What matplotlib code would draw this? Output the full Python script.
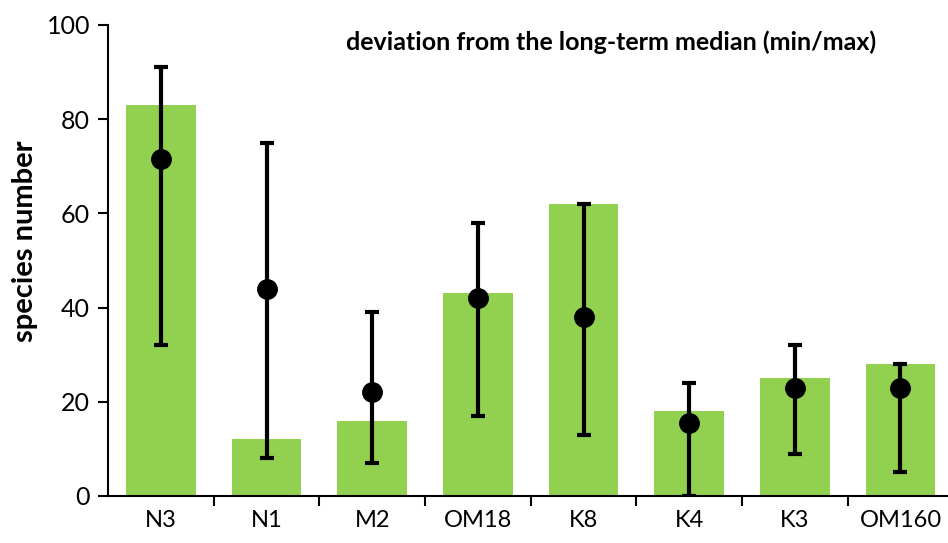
import numpy as np
import matplotlib.pyplot as plt

##------------data-----------------##
sites = ['N3', 'N1', 'M2', 'OM18', 'K8', 'K4', 'K3', 'OM160']
species = [83, 12, 16, 43, 62, 18, 25, 28]          # bars
median = [71.5, 44, 22, 42, 38, 15.5, 23, 23]       # long-term median
vmin = [32, 8, 7, 17, 13, 0, 9, 5]
vmax = [91, 75, 39, 58, 62, 24, 32, 28]

##------------figure-----------------##
plt.rcParams['font.family'] = ['Lato', 'DejaVu Sans']

fig = plt.figure(figsize=(9.48, 5.43), dpi=100)
ax = fig.add_axes([0.114, 0.0866, 0.886, 0.8674])

x = np.arange(len(sites))
med = np.array(median)
yerr = [med - np.array(vmin), np.array(vmax) - med]

ax.bar(x, species, width=0.66, color='#92D050', zorder=1)
ax.errorbar(x, med, yerr=yerr, fmt='o', color='black', ms=14,
             elinewidth=3, capsize=5, capthick=3, zorder=3)

ax.set_xlim(-0.5, 7.45)
ax.set_ylim(0, 100)
ax.set_yticks([0, 20, 40, 60, 80, 100])
ax.set_xticks(x)
ax.set_xticklabels(sites)
ax.set_xticks(np.arange(0.5, 7, 1), minor=True)
ax.tick_params(axis='x', which='major', length=0, labelsize=17, pad=10)
ax.tick_params(axis='x', which='minor', length=7, width=1.5, direction='out')
ax.tick_params(axis='y', length=7, width=1.5, labelsize=18, pad=6)

for s in ['top', 'right']:
    ax.spines[s].set_visible(False)
ax.spines['left'].set_linewidth(1.5)
ax.spines['bottom'].set_linewidth(1.5)

ax.set_ylabel('species number', fontsize=21, fontweight='bold')
ax.yaxis.set_label_coords(-0.084, 0.54)
ax.text(0.599, 0.964, 'deviation from the long-term median (min/max)',
        transform=ax.transAxes, ha='center', va='center',
        fontsize=18, fontweight='bold')

plt.savefig('out.png', dpi=100)
